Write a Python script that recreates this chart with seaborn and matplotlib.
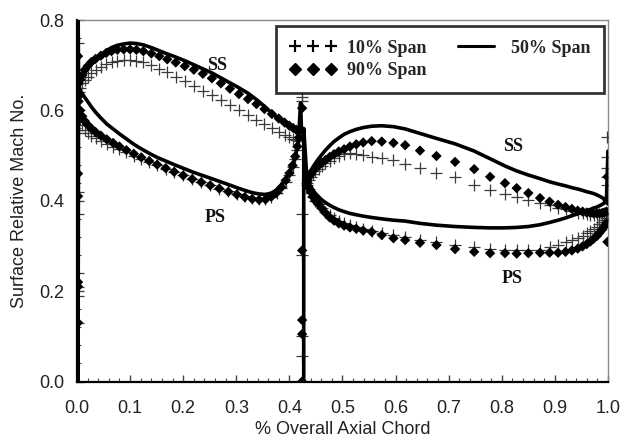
import numpy as np
import pandas as pd
import matplotlib
matplotlib.use("Agg")
import matplotlib.pyplot as plt
from matplotlib.lines import Line2D
import seaborn as sns

# ---- Blade row 1 (x from 0 to ~0.42) ----
B1_SS_X = [0.003, 0.006, 0.01, 0.015, 0.02, 0.027, 0.035, 0.045, 0.055, 0.065, 0.076, 0.088,
           0.1, 0.112, 0.125, 0.14, 0.155, 0.17, 0.186, 0.203, 0.22, 0.237, 0.254, 0.271,
           0.288, 0.305, 0.322, 0.338, 0.353, 0.367, 0.38, 0.391, 0.4, 0.407, 0.413, 0.418]
B1_SS_10 = [0.64, 0.65, 0.66, 0.667, 0.673, 0.682, 0.69, 0.697, 0.702, 0.706, 0.709, 0.711,
            0.711, 0.709, 0.706, 0.7, 0.692, 0.684, 0.675, 0.664, 0.655, 0.644, 0.633, 0.622,
            0.611, 0.6, 0.589, 0.578, 0.569, 0.561, 0.552, 0.546, 0.541, 0.537, 0.535, 0.535]
B1_SS_50 = [0.665, 0.672, 0.68, 0.688, 0.695, 0.703, 0.711, 0.722, 0.732, 0.739, 0.744, 0.747,
            0.749, 0.748, 0.745, 0.739, 0.732, 0.725, 0.718, 0.71, 0.701, 0.692, 0.683, 0.672,
            0.661, 0.65, 0.638, 0.624, 0.609, 0.594, 0.581, 0.571, 0.565, 0.561, 0.557, 0.553]
B1_SS_90 = [0.66, 0.668, 0.678, 0.69, 0.698, 0.707, 0.714, 0.721, 0.727, 0.731, 0.734, 0.735,
            0.735, 0.734, 0.731, 0.726, 0.72, 0.713, 0.706, 0.698, 0.69, 0.681, 0.671, 0.66,
            0.648, 0.636, 0.625, 0.614, 0.603, 0.592, 0.582, 0.573, 0.566, 0.561, 0.557, 0.555]

B1_PS_X = [0.003, 0.006, 0.01, 0.015, 0.02, 0.027, 0.035, 0.045, 0.056, 0.068, 0.08, 0.093,
           0.107, 0.121, 0.136, 0.151, 0.167, 0.183, 0.2, 0.217, 0.234, 0.251, 0.268, 0.285,
           0.301, 0.316, 0.33, 0.343, 0.355, 0.366, 0.376, 0.385, 0.393, 0.4, 0.406, 0.411,
           0.415, 0.418]
B1_PS_10 = [0.6, 0.58, 0.567, 0.557, 0.55, 0.544, 0.538, 0.532, 0.526, 0.52, 0.514, 0.507,
            0.5, 0.493, 0.486, 0.479, 0.471, 0.464, 0.456, 0.449, 0.441, 0.434, 0.427, 0.421,
            0.415, 0.41, 0.406, 0.404, 0.405, 0.409, 0.417, 0.428, 0.442, 0.457, 0.474, 0.493,
            0.513, 0.532]
B1_PS_50 = [0.655, 0.645, 0.637, 0.628, 0.62, 0.608, 0.596, 0.583, 0.57, 0.559, 0.548, 0.537,
            0.525, 0.515, 0.505, 0.496, 0.488, 0.48, 0.472, 0.464, 0.457, 0.45, 0.443, 0.436,
            0.429, 0.423, 0.418, 0.415, 0.414, 0.417, 0.424, 0.435, 0.448, 0.463, 0.479, 0.499,
            0.519, 0.54]
B1_PS_90 = [0.62, 0.6, 0.587, 0.576, 0.568, 0.56, 0.552, 0.544, 0.536, 0.528, 0.52, 0.512,
            0.504, 0.496, 0.488, 0.48, 0.472, 0.464, 0.456, 0.448, 0.441, 0.434, 0.427, 0.42,
            0.414, 0.408, 0.404, 0.402, 0.403, 0.409, 0.418, 0.43, 0.445, 0.461, 0.478, 0.498,
            0.52, 0.54]

# ---- Blade row 2 (x from ~0.43 to 1.0) ----
B2_X = [0.433, 0.436, 0.44, 0.444, 0.449, 0.455, 0.461, 0.468, 0.476, 0.484, 0.493, 0.503,
        0.514, 0.526, 0.539, 0.555, 0.574, 0.596, 0.618, 0.646, 0.677, 0.712, 0.748, 0.778,
        0.806, 0.828, 0.85, 0.872, 0.89, 0.906, 0.92, 0.932, 0.943, 0.952, 0.96, 0.967,
        0.973, 0.979, 0.984, 0.989, 0.993, 0.997]
B2_SS_10 = [0.44, 0.447, 0.453, 0.459, 0.465, 0.471, 0.477, 0.483, 0.489, 0.494, 0.499, 0.503,
            0.505, 0.504, 0.501, 0.497, 0.494, 0.49, 0.481, 0.472, 0.462, 0.452, 0.435, 0.424,
            0.415, 0.408, 0.401, 0.395, 0.39, 0.385, 0.381, 0.377, 0.374, 0.372, 0.37, 0.369,
            0.368, 0.368, 0.368, 0.369, 0.37, 0.372]
B2_SS_50 = [0.45, 0.458, 0.466, 0.474, 0.483, 0.493, 0.502, 0.512, 0.522, 0.531, 0.539, 0.547,
            0.553, 0.558, 0.562, 0.565, 0.566, 0.564, 0.559, 0.549, 0.538, 0.526, 0.51, 0.493,
            0.477, 0.466, 0.457, 0.449, 0.442, 0.437, 0.433, 0.429, 0.426, 0.423, 0.42, 0.418,
            0.416, 0.413, 0.41, 0.407, 0.404, 0.4]
B2_SS_90 = [0.445, 0.452, 0.458, 0.465, 0.472, 0.478, 0.484, 0.49, 0.497, 0.503, 0.509, 0.514,
            0.52, 0.525, 0.529, 0.532, 0.531, 0.528, 0.523, 0.511, 0.499, 0.486, 0.47, 0.453,
            0.439, 0.428, 0.417, 0.406, 0.398, 0.391, 0.386, 0.382, 0.378, 0.376, 0.374, 0.373,
            0.372, 0.372, 0.372, 0.373, 0.374, 0.376]
B2_PS_10 = [0.435, 0.426, 0.417, 0.408, 0.4, 0.392, 0.384, 0.376, 0.368, 0.361, 0.355, 0.35,
            0.346, 0.342, 0.338, 0.334, 0.329, 0.324, 0.32, 0.314, 0.309, 0.302, 0.297, 0.293,
            0.291, 0.29, 0.29, 0.292, 0.297, 0.302, 0.308, 0.313, 0.318, 0.323, 0.328, 0.333,
            0.338, 0.343, 0.348, 0.353, 0.357, 0.362]
B2_PS_50 = [0.45, 0.44, 0.432, 0.424, 0.416, 0.409, 0.402, 0.396, 0.39, 0.385, 0.38, 0.376,
            0.372, 0.369, 0.366, 0.363, 0.36, 0.357, 0.355, 0.35, 0.346, 0.343, 0.341, 0.34,
            0.34, 0.341, 0.343, 0.347, 0.352, 0.357, 0.362, 0.367, 0.371, 0.375, 0.378, 0.381,
            0.384, 0.386, 0.389, 0.392, 0.395, 0.398]
B2_PS_90 = [0.44, 0.43, 0.42, 0.409, 0.4, 0.392, 0.383, 0.373, 0.363, 0.356, 0.35, 0.345,
            0.341, 0.338, 0.334, 0.331, 0.324, 0.317, 0.313, 0.307, 0.302, 0.293, 0.287, 0.284,
            0.284, 0.283, 0.284, 0.285, 0.285, 0.285, 0.287, 0.29, 0.294, 0.299, 0.304, 0.31,
            0.316, 0.322, 0.329, 0.336, 0.343, 0.35]

# ---- Leading / trailing edge readings (stacked at one chord position) ----
EDGE_10_X = [0.002] * 11 + [0.424] * 6 + [0.999] * 6
EDGE_10_Y = [0.75, 0.69, 0.68, 0.66, 0.55, 0.42, 0.37, 0.24, 0.21, 0.19, 0.13,
             0.63, 0.62, 0.37, 0.28, 0.10, 0.056,
             0.541, 0.497, 0.472, 0.453, 0.435, 0.372]
EDGE_90_X = [0.002] * 8 + [0.424] * 5 + [0.999] * 3
EDGE_90_Y = [0.72, 0.67, 0.63, 0.46, 0.41, 0.22, 0.21, 0.13,
             0.605, 0.29, 0.136, 0.105, 0.0,
             0.453, 0.40, 0.309]

# 50% span line edges: LE spike of row 1, TE spike of row 1, LE spike of row 2, TE spike of row 2
B1_LE_50_X = [0.002, 0.002]
B1_LE_50_Y = [0.0, 0.84]
B1_TE_50_X = [0.421, 0.423]
B1_TE_50_Y = [0.616, 0.55]
B2_LE_50_X = [0.427, 0.427]
B2_LE_50_Y = [0.0, 0.56]
B2_TE_50_X = [1.0, 1.0]
B2_TE_50_Y = [0.51, 0.395]

LABELS = [("SS", 0.263, 0.70), ("PS", 0.26, 0.364), ("SS", 0.821, 0.519), ("PS", 0.819, 0.229)]

X_TICKS = np.round(np.arange(0, 1.01, 0.1), 1)
Y_TICKS = np.round(np.arange(0, 0.81, 0.2), 1)

# ---- assemble tables ----
b1_line = pd.DataFrame({
    "x": B1_PS_X[::-1] + B1_LE_50_X + B1_SS_X + B1_TE_50_X,
    "y": B1_PS_50[::-1] + B1_LE_50_Y + B1_SS_50 + B1_TE_50_Y,
})
b2_line = pd.DataFrame({
    "x": B2_LE_50_X + B2_X + B2_TE_50_X + B2_X[::-1],
    "y": B2_LE_50_Y + B2_SS_50 + B2_TE_50_Y + B2_PS_50[::-1],
})
span10 = pd.DataFrame({
    "x": B1_SS_X + B1_PS_X + B2_X + B2_X + EDGE_10_X,
    "y": B1_SS_10 + B1_PS_10 + B2_SS_10 + B2_PS_10 + EDGE_10_Y,
})
span90 = pd.DataFrame({
    "x": B1_SS_X + B1_PS_X + B2_X + B2_X + EDGE_90_X,
    "y": B1_SS_90 + B1_PS_90 + B2_SS_90 + B2_PS_90 + EDGE_90_Y,
})

sns.set_theme(style="white")
plt.rcParams["font.family"] = ["Liberation Sans", "DejaVu Sans"]

fig = plt.figure(figsize=(6.29, 4.41), dpi=100)
ax = fig.add_axes([0.1224, 0.1349, 0.8442, 0.8197])

sns.scatterplot(data=span10, x="x", y="y", marker="+", s=80, color="#3a3a3a",
                linewidth=0.9, ax=ax, zorder=3, legend=False)
for df in (b1_line, b2_line):
    sns.lineplot(data=df, x="x", y="y", sort=False, estimator=None, color="black",
                 linewidth=2.6, ax=ax, zorder=4, legend=False)
sns.scatterplot(data=span90, x="x", y="y", marker="D", s=28, color="black",
                edgecolor="none", ax=ax, zorder=5, legend=False)

ax.set_xlim(0, 1.0)
ax.set_ylim(0, 0.8)
ax.set_xticks(X_TICKS)
ax.set_xticklabels([f"{v:.1f}" for v in X_TICKS])
ax.set_yticks(Y_TICKS)
ax.set_yticklabels([f"{v:.1f}" for v in Y_TICKS])
ax.set_xticks(np.arange(0, 1.001, 0.02), minor=True)
ax.set_yticks(np.arange(0, 0.801, 0.04), minor=True)
ax.tick_params(axis="both", which="major", direction="in", length=5, width=1,
               color="#444", labelsize=13, labelcolor="#222")
ax.tick_params(axis="both", which="minor", direction="in", length=3, width=0.8, color="#444")
ax.tick_params(axis="x", which="major", pad=13, bottom=True)
ax.tick_params(axis="y", which="major", pad=9, left=True)
ax.tick_params(axis="x", which="minor", bottom=True)
ax.tick_params(axis="y", which="minor", left=True)

ax.set_xlabel("% Overall Axial Chord", fontsize=13, color="#222", labelpad=3)
ax.set_ylabel("Surface Relative Mach No.", fontsize=13, color="#222", labelpad=8)

for side in ("left", "bottom"):
    ax.spines[side].set_color("black")
    ax.spines[side].set_linewidth(1.6)
for side in ("top", "right"):
    ax.spines[side].set_color("#8a8a8a")
    ax.spines[side].set_linewidth(1.0)

for txt, lx, ly in LABELS:
    ax.text(lx, ly, txt, fontsize=13, fontweight="bold", ha="center", va="center",
            family=["Liberation Serif", "DejaVu Serif"], color="#111", zorder=6)

handles = [
    Line2D([], [], linestyle="none", marker="+", markersize=8, markeredgewidth=1.6,
           color="black", label="10% Span"),
    Line2D([], [], linestyle="none", marker="D", markersize=6, color="black",
           label="90% Span"),
    Line2D([], [], linestyle="-", linewidth=2.2, color="black", label="50% Span"),
]
leg = ax.legend(handles=handles, ncol=2, numpoints=3, loc="upper left",
                bbox_to_anchor=(0.375, 0.812, 0.617, 0.171), mode="expand",
                borderaxespad=0.0, frameon=True, fancybox=False, borderpad=0.75,
                handlelength=2.6, handletextpad=0.6, labelspacing=0.3, columnspacing=1.0,
                prop={"family": ["Liberation Serif", "DejaVu Serif"], "weight": "bold",
                      "size": 13})
leg.get_frame().set_edgecolor("black")
leg.get_frame().set_linewidth(2.0)
leg.set_zorder(10)

fig.savefig("out.png", dpi=100)
